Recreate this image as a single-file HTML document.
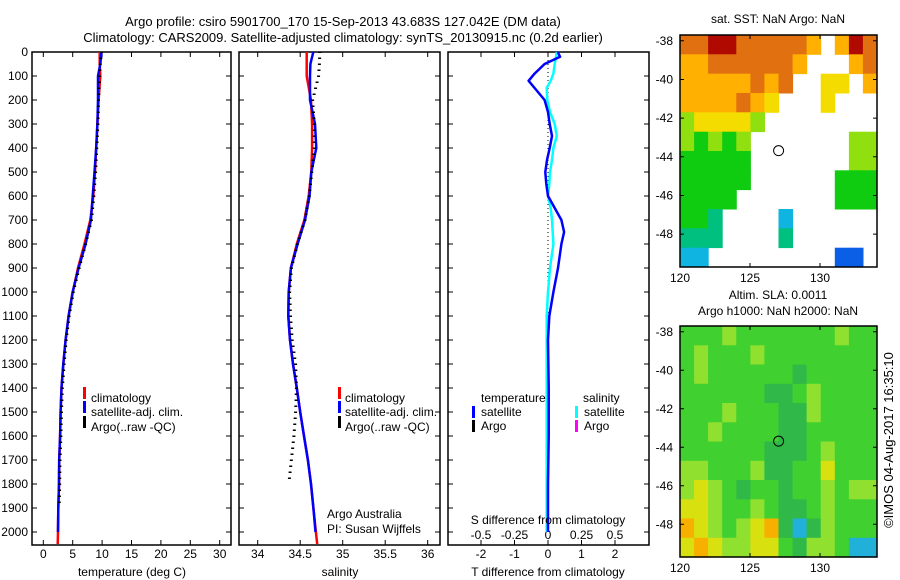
<!DOCTYPE html>
<html><head><meta charset="utf-8"><style>
body{margin:0;background:#fff;}
svg{display:block;font-family:"Liberation Sans",sans-serif;}
text{font-size:12px;fill:#000;}
</style></head><body>
<svg id="c" width="900" height="580" viewBox="0 0 900 580">
<text x="343" y="26" text-anchor="middle" style="font-size:13px">Argo profile: csiro 5901700_170 15-Sep-2013 43.683S 127.042E (DM data)</text>
<text x="343" y="42" text-anchor="middle" style="font-size:13px">Climatology: CARS2009. Satellite-adjusted climatology: synTS_20130915.nc (0.2d earlier)</text>
<g id="g"></g>
</svg>
<script>
const depthTicks=[0,100,200,300,400,500,600,700,800,900,1000,1100,1200,1300,1400,1500,1600,1700,1800,1900,2000];
const depthClim=[0,50,100,200,300,400,500,600,700,800,900,1000,1100,1200,1300,1400,1500,1600,1700,1800,1900,2000,2050];
const tempClim=[9.6,9.6,9.7,9.4,9.2,9.0,8.8,8.5,8.0,7.0,5.9,5.0,4.3,3.8,3.4,3.1,2.95,2.85,2.7,2.67,2.55,2.5,2.45];
const tempSat=[9.9,9.7,9.3,9.3,9.2,9.0,8.7,8.4,8.1,7.2,6.0,5.0,4.3,3.8,3.4,3.1,2.95,2.85,2.7,2.67,2.55,2.5,null];
const tempArgo=[9.8,9.6,9.5,9.3,9.2,9.0,8.8,8.5,8.1,7.1,6.0,5.0,4.3,3.8,3.45,3.15,3.0,2.9,2.75,2.7,2.6,null,null];
const salClim=[34.576,34.576,34.576,34.627,34.64,34.64,34.63,34.6,34.55,34.46,34.39,34.365,34.36,34.38,34.415,34.46,34.5,34.545,34.59,34.627,34.655,34.685,34.7];
const salSat=[34.654,34.62,34.615,34.615,34.674,34.69,34.63,34.61,34.556,34.47,34.39,34.365,34.36,34.38,34.415,34.46,34.5,34.545,34.59,34.627,34.655,34.68,null];
const salArgo=[34.725,34.72,34.71,34.64,34.66,34.66,34.63,34.6,34.55,34.46,34.39,34.37,34.38,34.4,34.44,34.45,34.44,34.42,34.39,34.36,null,null,null];
const depthDiff=[0,20,50,90,120,150,200,250,300,350,400,450,500,550,600,650,700,750,800,900,1000,1100,1200,1400,1600,1800,2000];
const tDiffSat=[0.29,0.36,-0.1,-0.4,-0.58,-0.4,-0.1,0,0.05,0.12,0.05,-0.03,-0.08,-0.05,0,0.2,0.4,0.48,0.4,0.3,0.16,0.04,0.0,0.02,0.02,0.0,0.0];
const sDiffSat=[0.066,0.06,0.05,0.04,0.02,-0.01,-0.005,0.015,0.05,0.066,0.04,0.03,0.015,0.01,0,0.02,0.03,0.035,0.04,0.015,0,-0.01,-0.01,-0.01,-0.01,-0.01,-0.01];
const tTicks=[0,5,10,15,20,25,30];
const sTicks=[34,34.5,35,35.5,36];
const tdTicks=[-2,-1,0,1,2];
const sdTicks=[-0.5,-0.25,0,0.25,0.5];
const sdTickLabels=['-0.5','-0.25','0','0.25','0.5'];
const sstRows=["8899888887.798","778888887...78","77777878..66.7","7777876...6...","566665........","54545.......55","44444.......55","44444......444","4444.......444","443....2......","333....3......","22.........11."];
const slaRows=["44454444444544","45444544444444","45444444344444","44444433454444","44454443354444","44544443344444","44444433345444","55444533446444","56543443445455","66544543345444","76545673235444","67655664355422"];
const lonTicks=[120,125,130];
const latTicks=[-38,-40,-42,-44,-46,-48];

const NS='http://www.w3.org/2000/svg';
const G=document.getElementById('g');
function mk(tag,attrs,parent){const e=document.createElementNS(NS,tag);for(const k in attrs)e.setAttribute(k,attrs[k]);(parent||G).appendChild(e);return e;}
const TOP=52,BOT=545;
const yD=d=>TOP+0.24*d;
const xT=t=>43.3+5.88*t;
const xS=s=>257.7+85*(s-34);
const xTD=t=>548+33.5*t;
const xSD=s=>548+134*s;

function frame(x0,x1,name){
  const r=mk('rect',{x:x0,y:TOP,width:x1-x0,height:BOT-TOP,fill:'none',stroke:'#000','stroke-width':1.5});
  
  
  depthTicks.forEach(d=>{
    const y=yD(d);
    const t=mk('path',{d:`M${x0},${y}h5M${x1},${y}h-5`,stroke:'#000','stroke-width':1});
    
    
  });
}
function line(xs,ds,vals,fx,color,name,w){
  let p='';
  vals.forEach((v,i)=>{if(v===null)return;p+=(p?'L':'M')+fx(v).toFixed(1)+','+yD(ds[i]).toFixed(1);});
  const e=mk('path',{d:p,fill:'none',stroke:color,'stroke-width':w||2.5,'stroke-linejoin':'round'});
  
  
}
function dots(ds,vals,fx,name){
  const g=mk('g',{});
  
  
  for(let d=0;d<=2050;d+=25){
    let i=0;while(i<ds.length-1&&ds[i+1]<=d)i++;
    if(i>=ds.length-1||vals[i]===null||vals[i+1]===null)continue;
    const f=(d-ds[i])/(ds[i+1]-ds[i]);const v=vals[i]+f*(vals[i+1]-vals[i]);
    mk('rect',{x:fx(v)-1,y:yD(d)-0.5,width:3,height:1.5,fill:'#000'},g);
  }
}
function txt(x,y,s,name,anchor,extra){
  const e=mk('text',Object.assign({x:x,y:y,'text-anchor':anchor||'start'},extra||{}));
  e.textContent=s;
  
  
  return e;
}
function bar(x,y,color,name){
  const e=mk('rect',{x:x,y:y-10,width:3,height:12,fill:color});
  
  
}
depthTicks.forEach(d=>txt(28,yD(d)+4,String(d),'depth-label','end'));
frame(32,231,'temperature-panel');
tTicks.forEach(t=>{const x=xT(t);mk('path',{d:`M${x},${BOT}v-5M${x},${TOP}v5`,stroke:'#000'});txt(x,558,String(t),'temp-tick-label','middle');});
line(0,depthClim,tempClim,xT,'#f00','temp-climatology-line');
line(0,depthClim,tempSat,xT,'#00f','temp-satellite-line');
dots(depthClim,tempArgo,xT,'temp-argo-dots');
txt(132,576,'temperature (deg C)','temp-axis-title','middle');
bar(83,397,'#f00','legend-climatology-swatch');txt(91,402,'climatology','legend-climatology');
bar(83,411,'#00f','legend-satellite-swatch');txt(91,416,'satellite-adj. clim.','legend-satellite');
bar(83,426,'#000','legend-argo-swatch');txt(91,431,'Argo(..raw -QC)','legend-argo');
frame(239,440,'salinity-panel');
sTicks.forEach(s=>{const x=xS(s);mk('path',{d:`M${x},${BOT}v-5M${x},${TOP}v5`,stroke:'#000'});txt(x,558,String(s),'sal-tick-label','middle');});
line(0,depthClim,salClim,xS,'#f00','sal-climatology-line');
line(0,depthClim,salSat,xS,'#00f','sal-satellite-line');
dots(depthClim,salArgo,xS,'sal-argo-dots');
txt(340,576,'salinity','sal-axis-title','middle');
bar(338,397,'#f00','legend2-climatology-swatch');txt(345,402,'climatology','legend2-climatology');
bar(338,411,'#00f','legend2-satellite-swatch');txt(345,416,'satellite-adj. clim.','legend2-satellite');
bar(338,426,'#000','legend2-argo-swatch');txt(345,431,'Argo(..raw -QC)','legend2-argo');
txt(327,518,'Argo Australia','credit-line-1');
txt(327,533,'PI: Susan Wijffels','credit-line-2');
frame(448,649,'difference-panel');
tdTicks.forEach(t=>{const x=xTD(t);mk('path',{d:`M${x},${BOT}v-5M${x},${TOP}v5`,stroke:'#000'});txt(x,558,String(t),'tdiff-tick-label','middle');});
sdTicks.forEach((s,i)=>txt(xSD(s),539,sdTickLabels[i],'sdiff-tick-label','middle'));
const zl=mk('path',{d:`M${xTD(0)},${TOP}V${yD(1150)}`,stroke:'#000','stroke-dasharray':'1,3'});


line(0,depthDiff,sDiffSat,xSD,'#0ff','sdiff-satellite-line');
line(0,depthDiff,tDiffSat,xTD,'#00f','tdiff-satellite-line');
txt(548,524,'S difference from climatology','sdiff-axis-title','middle');
txt(548,576,'T difference from climatology','tdiff-axis-title','middle');
txt(481,402,'temperature','legend3-temperature-heading');
txt(583,402,'salinity','legend3-salinity-heading');
bar(472,416,'#00f','legend3-tsat-swatch');txt(481,416,'satellite','legend3-tsat');
bar(472,430,'#000','legend3-targo-swatch');txt(481,430,'Argo','legend3-targo');
bar(575,416,'#0ff','legend3-ssat-swatch');txt(584,416,'satellite','legend3-ssat');
bar(575,430,'#f0f','legend3-sargo-swatch');txt(584,430,'Argo','legend3-sargo');
const sstCol={'1':'#0a5fe6','2':'#10b4e0','3':'#00c080','4':'#10cc10','5':'#90e010','6':'#f4dc00','7':'#ffb000','8':'#e07010','9':'#b00a00'};
const slaCol={'2':'#20b0d8','3':'#30b848','4':'#40d030','5':'#90e030','6':'#d8e010','7':'#f8b000'};
function map(y0,y1,rows,cols,name,title1,title2){
  const x0=680,x1=877,lonA=120,lonB=134.07,latA=-37.7,latB=-49.7;
  const xL=l=>x0+(l-lonA)*(x1-x0)/(lonB-lonA);
  const yL=l=>y0+(latA-l)*(y1-y0)/(latA-latB);
  const g=mk('g',{});
  
  
  rows.forEach((r,ri)=>{
    const n=r.length;
    for(let ci=0;ci<n;ci++){
      const c=cols[r[ci]];if(!c)continue;
      const la=latA-ri,lo=lonA+ci*(lonB-lonA)/n;
      mk('rect',{x:xL(lo).toFixed(1),y:yL(la).toFixed(1),width:((x1-x0)/n+0.5).toFixed(1),height:((y1-y0)/rows.length+0.5).toFixed(1),fill:c},g);
    }
  });
  const f=mk('rect',{x:x0,y:y0,width:x1-x0,height:y1-y0,fill:'none',stroke:'#000','stroke-width':1.5});
  
  
  lonTicks.forEach(l=>{mk('path',{d:`M${xL(l)},${y1}v-4M${xL(l)},${y0}v4`,stroke:'#000'});txt(xL(l),y1+15,String(l),'lon-label','middle');});
  latTicks.forEach(l=>{mk('path',{d:`M${x0},${yL(l)}h4M${x1},${yL(l)}h-4`,stroke:'#000'});txt(673,yL(l)+4,String(l),'lat-label','end');});
  const c=mk('circle',{cx:xL(127.042),cy:yL(-43.683),r:5,fill:'none',stroke:'#000','stroke-width':1});
  
  
  if(title1)txt(778,title2?y0-27:y0-12,title1,name+'-title','middle');
  if(title2)txt(778,y0-11,title2,name+'-subtitle','middle');
}
map(35,267,sstRows,sstCol,'sst-map','sat. SST: NaN Argo: NaN');
map(326,557,slaRows,slaCol,'sla-map','Altim. SLA: 0.0011','Argo h1000: NaN h2000: NaN');
txt(0,0,'©IMOS 04-Aug-2017 16:35:10','timestamp','middle',{transform:'translate(893,440) rotate(-90)',style:'font-size:13px'});
</script>
</body></html>
